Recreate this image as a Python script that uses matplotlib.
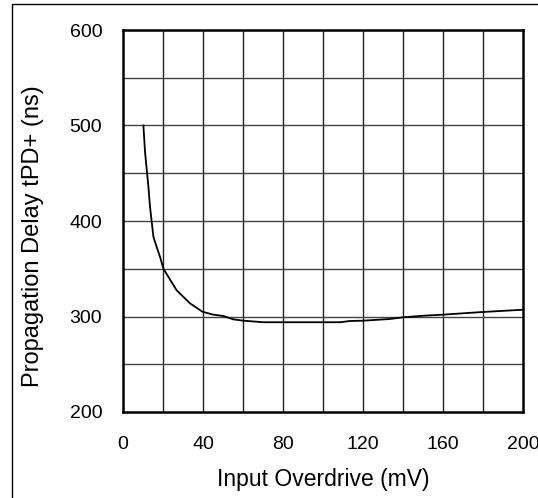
import matplotlib
matplotlib.use("Agg")
import matplotlib.pyplot as plt
from matplotlib.patches import Rectangle

plt.rcParams['font.family'] = ['Liberation Sans', 'DejaVu Sans']

overdrive_mv = [10.2, 11, 12.7, 13.5, 15.2, 16.8, 18.5, 20.2, 26.8, 33.5, 39.7, 45, 50.2, 55.2,
                60.2, 70.2, 88.5, 108.5, 113.5, 120, 133.5, 139.7, 150.2, 159.7, 179.7, 200]
delay_ns = [500, 472.6, 436, 415, 383.5, 373, 362.6, 350, 327.5, 313.8, 305, 302, 300.5, 297,
            295.6, 294, 294, 294, 295.3, 295.6, 297.4, 299.1, 300.8, 301.9, 304.7, 307.1]

x_ticks = [0, 40, 80, 120, 160, 200]
y_ticks = [200, 300, 400, 500, 600]
x_grid = list(range(0, 201, 20))
y_grid = list(range(200, 601, 50))

W, H = 538, 498
fig = plt.figure(figsize=(W / 100, H / 100), dpi=100)
ax = fig.add_axes([123 / W, 1 - 412 / H, 400 / W, 382 / H])

# outer frame
fig.patches.append(Rectangle((12 / W, -0.05), 1.2, 1 - 4 / H + 0.05, transform=fig.transFigure,
                             fill=False, edgecolor='black', linewidth=1.0))

for gx in x_grid[1:-1]:
    ax.axvline(gx, color='#222222', linewidth=1.0, zorder=1)
for gy in y_grid[1:-1]:
    ax.axhline(gy, color='#444444', linewidth=1.0, zorder=1)

ax.plot(overdrive_mv, delay_ns, color='black', linewidth=1.3, zorder=3)

ax.set_xlim(0, 200)
ax.set_ylim(200, 600)
ax.set_xticks(x_ticks)
ax.set_yticks(y_ticks)
ax.tick_params(length=0, labelsize=14)
ax.tick_params(axis='x', pad=17)
ax.tick_params(axis='y', pad=15)
for s in ax.spines.values():
    s.set_linewidth(1.8)
    s.set_color('black')
    s.set_zorder(4)

ax.set_xlabel('Input Overdrive (mV)', fontsize=16.5, labelpad=11)
ax.set_ylabel('Propagation Delay tPD+ (ns)', fontsize=17, va='center')
ax.yaxis.set_label_coords((33 - 123) / 400, (412 - 236) / 382)

fig.savefig('out.png', dpi=100)
